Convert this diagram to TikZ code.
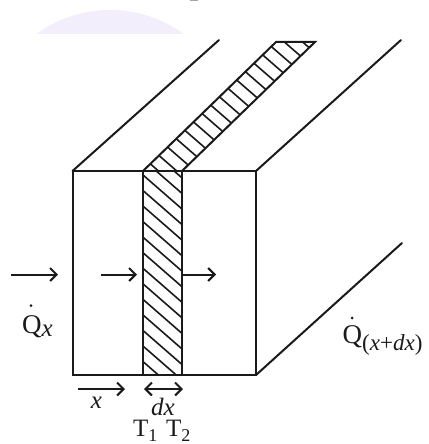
\documentclass[tikz,border=0pt]{standalone}
\usepackage{fontspec}
\setmainfont{Liberation Serif}
\usetikzlibrary{arrows.meta}
\newcommand{\lblfont}{\fontsize{25}{27}\selectfont}
\newcommand{\qfont}{\fontsize{27}{29}\selectfont}
\newcommand{\subfont}{\fontsize{18}{20}\selectfont}
\newcommand{\widefont}{\fontsize{24}{26}\selectfont}
\newcommand{\low}[1]{\raisebox{-5pt}{\subfont #1}}
\definecolor{ink}{HTML}{1A1A1A}
\definecolor{pale}{HTML}{F3EEFB}
\tikzset{
  edgeline/.style={draw=ink,line width=2pt,line cap=round,line join=miter},
  hatchline/.style={draw=ink,line width=1.6pt},
  barb/.tip={Straight Barb[length=6.5pt,width=13pt,line width=2pt]},
  flow/.style={draw=ink,line width=2pt,-barb},
  span/.style={draw=ink,line width=2pt,barb-barb},
  lbl/.style={inner sep=0pt,text=ink,font=\lblfont}
}
\begin{document}
\begin{tikzpicture}[x=1pt,y=-1pt]
\useasboundingbox (0,0) rectangle (428,444);
% pale cap and top speck
\begin{scope}
  \clip (0,0) rectangle (428,33.5);
  \fill[pale] (110,135) circle (125pt);
\end{scope}
\fill[gray!70] (190,0) rectangle (198,1.5);
% corners
\coordinate (fa) at (72.5,171);
\coordinate (fb) at (256,171);
\coordinate (fc) at (256,375);
\coordinate (fd) at (72.5,375);
\coordinate (sa) at (143,171);
\coordinate (sb) at (182,171);
\coordinate (sc) at (182,375);
\coordinate (sd) at (143,375);
\coordinate (ta) at (219,40);
\coordinate (tb) at (276,42);
\coordinate (tc) at (315,42);
\coordinate (td) at (401,40);
\coordinate (te) at (402,243);
% hatching, front
\begin{scope}
  \clip (sa) rectangle (sc);
  \foreach \k in {-2,...,12}
    \draw[hatchline] (143,{175+15.55*\k}) -- (182,{175+15.55*\k+34});
\end{scope}
% hatching, receding strip
\begin{scope}
  \clip (sa) -- (tb) -- (tc) -- (sb) -- cycle;
  \foreach \k in {-2,...,15}
    \draw[hatchline] (130,{-189.5+15.9*\k+113.1}) -- (330,{-189.5+15.9*\k+287.1});
\end{scope}
% outlines
\draw[edgeline] (fa) rectangle (fc);
\draw[edgeline] (sa) -- (sd);
\draw[edgeline] (sb) -- (sc);
\draw[edgeline] (fa) -- (ta);
\draw[edgeline] (sa) -- (tb) -- (tc) -- (sb);
\draw[edgeline] (fb) -- (td);
\draw[edgeline] (fc) -- (te);
% arrows
\coordinate (a1) at (11,274.5);
\coordinate (a2) at (58,274.5);
\coordinate (a3) at (101,274.5);
\coordinate (a4) at (137,274.5);
\coordinate (a5) at (183,274.5);
\coordinate (a6) at (216,274.5);
\coordinate (a7) at (78,389);
\coordinate (a8) at (125,389);
\coordinate (a9) at (144,389);
\coordinate (a10) at (183,389);
\draw[flow] (a1) -- (a2);
\draw[flow] (a3) -- (a4);
\draw[flow] (a5) -- (a6);
\draw[flow] (a7) -- (a8);
\draw[span] (a9) -- (a10);
% labels
\node[lbl,anchor=base west] (qx) at (22,333) {{\qfont Q}\raisebox{-3pt}{\textit{x}}};
\node[lbl,anchor=base west] (qdx) at (342.5,343) {{\qfont Q}\raisebox{-7pt}{\fontsize{23}{25}\selectfont(\textit{x}+\textit{dx})}};
\coordinate (qxdot) at (31,305.7);
\coordinate (qdxdot) at (352,318);
\fill[ink] (qxdot) circle (1.5pt);
\fill[ink] (qdxdot) circle (1.5pt);
\node[lbl,anchor=base] (xl) at (96.5,408) {\textit{x}};
\node[lbl,anchor=base] (dxl) at (163,415) {\textit{dx}};
\node[lbl,anchor=base west] (t1) at (133,436.5) {T\low{1}};
\node[lbl,anchor=base west] (t2) at (166,436.5) {T\low{2}};
\end{tikzpicture}
\end{document}
